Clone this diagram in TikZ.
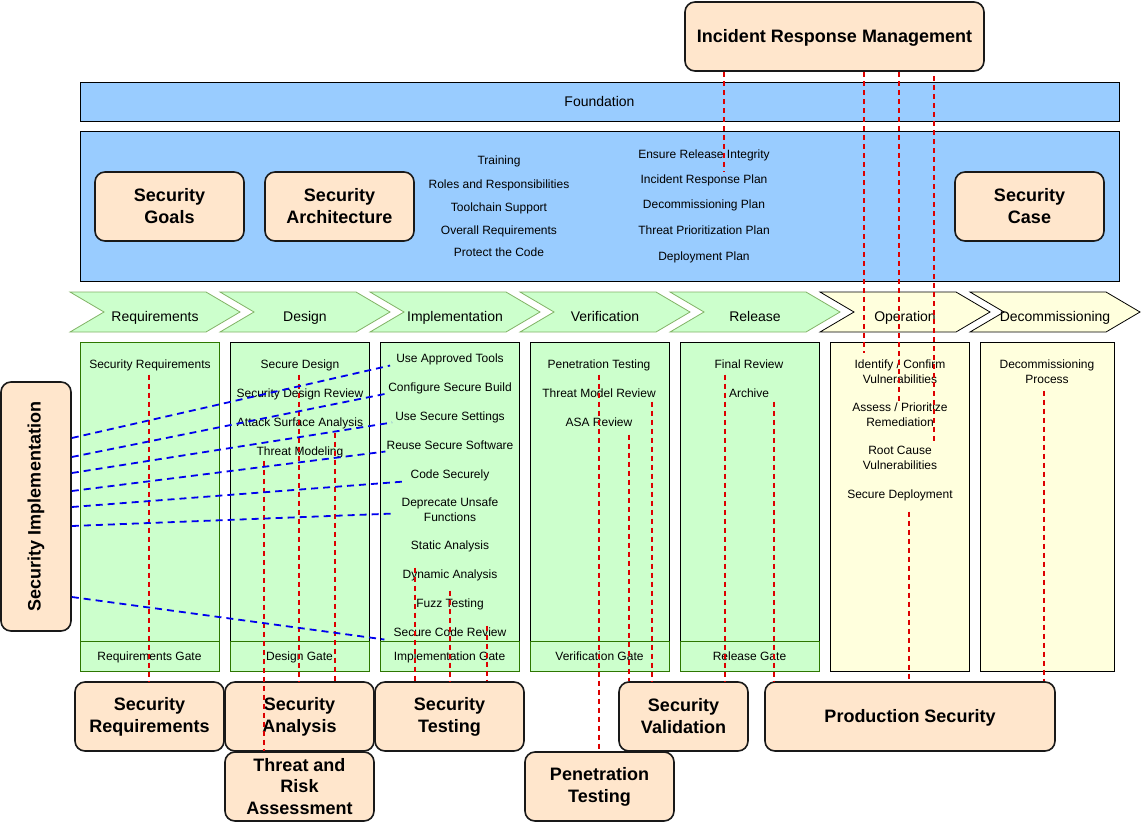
\documentclass[tikz,border=0pt]{standalone}
\usepackage{fontspec}
\usepackage{graphicx}
\setmainfont{Liberation Sans}
\usetikzlibrary{calc}

\definecolor{sky}{HTML}{99CCFF}
\definecolor{peach}{HTML}{FFE6CC}
\definecolor{mint}{HTML}{CCFFCC}
\definecolor{cream}{HTML}{FFFFDD}
\definecolor{leaf}{HTML}{82B366}
\definecolor{gateline}{HTML}{2D7600}
\definecolor{redlink}{HTML}{DD0000}
\definecolor{bluelink}{HTML}{0000EE}

\tikzset{
  lbl/.style={font=\fontsize{12}{15}\selectfont, align=center, inner sep=1pt},
  lblone/.style={lbl, text height=8.6, text depth=0},
  pbox/.style={draw=black!90, line width=1.6, rounded corners=10, fill=peach,
    font=\fontsize{18}{22}\selectfont\bfseries, align=center,
    minimum width=149, minimum height=69, inner sep=2},
  pboxone/.style={pbox, text height=12.9, text depth=0},
  band/.style={draw=black, fill=sky, line width=0.8, font=\fontsize{14}{16}\selectfont,
    text height=10, text depth=0},
  phasegreen/.style={draw=leaf, fill=mint, line width=0.8},
  phasecream/.style={draw=black, fill=cream, line width=0.8},
  phasetxt/.style={font=\fontsize{14}{16}\selectfont, inner sep=1pt, text height=10, text depth=0},
  gatebox/.style={draw=gateline, fill=mint, line width=0.8,
    font=\fontsize{12}{14}\selectfont, minimum width=139, minimum height=30, inner sep=0,
    text height=8.6, text depth=0},
  rl/.style={draw=redlink, line width=1.8, dash pattern=on 5pt off 4pt},
  bl/.style={draw=bluelink, line width=1.8, dash pattern=on 7pt off 5pt},
}

% one stage arrow: left x, style, node name, label
\newcommand\phasestep[4]{%
  \draw[#2] (#1,292) -- ++(136,0) -- ++(34,20) -- ++(-34,20) -- ++(-136,0) -- ++(34,-20) -- cycle;
  \node[phasetxt] (#3) at (#1+85,316) {#4};}

\begin{document}
\begin{tikzpicture}[x=1pt,y=-1pt]
\useasboundingbox (0,0) rectangle (1141,822);

% ---- foundation band and the container below it
\node[band, minimum width=1039, minimum height=39] (fnd) at (599.5,101.5) {Foundation};
\draw[draw=black, fill=sky, line width=0.8] (80,131) rectangle (1119,281);

\node[pbox] (goals) at (169.5,206.5) {Security\\Goals};
\node[pbox] (arch)  at (339.5,206.5) {Security\\Architecture};
\node[pbox] (case)  at (1029.5,206.5) {Security\\Case};

\node[lblone] (train)   at (499,160) {Training};
\node[lblone] (roles)   at (499,184) {Roles and Responsibilities};
\node[lblone] (tool)    at (499,207) {Toolchain Support};
\node[lblone] (overall) at (499,230) {Overall Requirements};
\node[lblone] (protect) at (499,252) {Protect the Code};

\node[lblone] (eri) at (704,154) {Ensure Release Integrity};
\node[lblone] (irp) at (704,179) {Incident Response Plan};
\node[lblone] (dcp) at (704,204) {Decommissioning Plan};
\node[lblone] (tpp) at (704,230) {Threat Prioritization Plan};
\node[lblone] (dpl) at (704,256) {Deployment Plan};

\node[pboxone, minimum width=299] (irm) at (834.5,36.5) {Incident Response Management};

% ---- lifecycle stages
\phasestep{70}{phasegreen}{ph1}{Requirements}
\phasestep{220}{phasegreen}{ph2}{Design}
\phasestep{370}{phasegreen}{ph3}{Implementation}
\phasestep{520}{phasegreen}{ph4}{Verification}
\phasestep{670}{phasegreen}{ph5}{Release}
\phasestep{820}{phasecream}{ph6}{Operation}
\phasestep{970}{phasecream}{ph7}{Decommissioning}

% ---- stage columns
\draw[draw=gateline, fill=mint, line width=0.8] (80,342) rectangle (219,671);
\draw[draw=black, fill=mint, line width=0.8] (230,342) rectangle (369,671);
\draw[draw=black, fill=mint, line width=0.8] (380,342) rectangle (519,671);
\draw[draw=black, fill=mint, line width=0.8] (530,342) rectangle (669,671);
\draw[draw=black, fill=mint, line width=0.8] (680,342) rectangle (819,671);
\draw[draw=black, fill=cream, line width=0.8] (830,342) rectangle (969,671);
\draw[draw=black, fill=cream, line width=0.8] (980,342) rectangle (1114,671);

\node[gatebox] (g1) at (149.5,656) {Requirements Gate};
\node[gatebox] (g2) at (299.5,656) {Design Gate};
\node[gatebox] (g3) at (449.5,656) {Implementation Gate};
\node[gatebox] (g4) at (599.5,656) {Verification Gate};
\node[gatebox] (g5) at (749.5,656) {Release Gate};

% requirements
\node[lblone] (sreq) at (150,364) {Security Requirements};
% design
\node[lblone] (sd)  at (300,364) {Secure Design};
\node[lblone] (sdr) at (300,393) {Security Design Review};
\node[lblone] (asa) at (300,422) {Attack Surface Analysis};
\node[lblone] (tm)  at (300,451) {Threat Modeling};
% implementation
\node[lblone] (uat) at (450,358) {Use Approved Tools};
\node[lblone] (csb) at (450,387) {Configure Secure Build};
\node[lblone] (uss) at (450,416) {Use Secure Settings};
\node[lblone] (rss) at (450,445) {Reuse Secure Software};
\node[lblone] (cs)  at (450,474) {Code Securely};
\node[lbl]    (dup) at (450,509.5) {Deprecate Unsafe\\Functions};
\node[lblone] (sa)  at (450,545) {Static Analysis};
\node[lblone] (da)  at (450,574) {Dynamic Analysis};
\node[lblone] (ft)  at (450,603) {Fuzz Testing};
\node[lblone] (scr) at (450,632) {Secure Code Review};
% verification
\node[lblone] (pt)   at (599,364) {Penetration Testing};
\node[lblone] (tmr)  at (599,393) {Threat Model Review};
\node[lblone] (asar) at (599,422) {ASA Review};
% release
\node[lblone] (fr)  at (749,364) {Final Review};
\node[lblone] (arc) at (749,393) {Archive};
% operation
\node[lbl] (icv)  at (900,371.5) {Identify / Confirm\\Vulnerabilities};
\node[lbl] (apr)  at (900,415) {Assess / Prioritize\\Remediation};
\node[lbl] (rcv)  at (900,458) {Root Cause\\Vulnerabilities};
\node[lblone] (sdep) at (900,494) {Secure Deployment};
% decommissioning
\node[lbl] (dproc) at (1047,371.5) {Decommissioning\\Process};

% ---- practice groups
\node[pbox, minimum width=70, minimum height=249] (simpl) at (36,506.5)
  {\rotatebox{90}{Security Implementation}};
\node[pbox] (sreqb) at (149.5,716.5) {Security\\Requirements};
\node[pbox] (sana)  at (299.5,716.5) {Security\\Analysis};
\node[pbox] (stest) at (449.5,716.5) {Security\\Testing};
\node[pbox, font=\fontsize{18}{21.5}\selectfont\bfseries] (tra) at (299.5,786.5) {Threat and\\Risk\\Assessment};
\node[pbox] (pent)  at (599.5,786.5) {Penetration\\Testing};
\node[pbox, minimum width=129] (sval) at (683.5,716.5) {Security\\Validation};
\node[pboxone, minimum width=290] (psec) at (910,716.5) {Production Security};

% ---- activity to practice links
\draw[rl] ($(sreq.south -| 149,0)+(0,5)$) -- (sreqb.north -| 149,0);
\draw[rl] ($(sd.south -| 299,0)+(0,5)$) -- (sana.north -| 299,0);
\draw[rl] ($(asa.south -| 335,0)+(0,5)$) -- (sana.north -| 335,0);
\draw[rl] ($(tm.south -| 264,0)+(0,4)$) -- (tra.north -| 264,0);
\draw[rl] ($(da.north -| 415,0)+(0,-1)$) -- (stest.north -| 415,0);
\draw[rl] ($(ft.north -| 450,0)+(0,-7)$) -- (stest.north -| 450,0);
\draw[rl] ($(scr.north -| 487,0)+(0,-1)$) -- (stest.north -| 487,0);
\draw[rl] ($(pt.south -| 599,0)+(0,5)$) -- (pent.north -| 599,0);
\draw[rl] ($(tmr.south -| 652,0)+(0,3)$) -- (sval.north -| 652,0);
\draw[rl] ($(asar.south -| 629,0)+(0,7)$) -- (sval.north -| 629,0);
\draw[rl] ($(fr.south -| 725,0)+(0,5)$) -- (sval.north -| 725,0);
\draw[rl] ($(arc.south -| 774,0)+(0,3)$) -- (psec.north -| 774,0);
\draw[rl] ($(sdep.south -| 909,0)+(0,12)$) -- (psec.north -| 909,0);
\draw[rl] ($(dproc.south -| 1044,0)+(0,6)$) -- (psec.north -| 1044,0);

\draw[rl] (irm.south -| 724,0) -- ($(irp.north -| 724,0)+(0,-2)$);
\draw[rl] (irm.south -| 864,0) -- ($(icv.north -| 864,0)+(0,-5)$);
\draw[rl] (irm.south -| 899,0) -- ($(apr.north -| 899,0)+(0,-1)$);
\draw[rl] ($(irm.south -| 934,0)+(0,4)$) -- ($(rcv.north -| 934,0)+(0,-4)$);

\draw[bl] ([yshift=68.5]simpl.east) -- ([xshift=-5,yshift=-2]uat.south west);
\draw[bl] ([yshift=49.5]simpl.east) -- ([yshift=-1]csb.south west);
\draw[bl] ([yshift=33.5]simpl.east) -- ([xshift=-2,yshift=-1]uss.south west);
\draw[bl] ([yshift=15.5]simpl.east) -- ([yshift=-1]rss.south west);
\draw[bl] ([yshift=-0.5]simpl.east) -- ([xshift=-5,yshift=-2]cs.south west);
\draw[bl] ([yshift=-19.5]simpl.east) -- ([xshift=-6,yshift=-4]dup.west);
\draw[bl] ([yshift=-90.5]simpl.east) -- ([xshift=-8,yshift=-2]scr.south west);

\end{tikzpicture}
\end{document}
